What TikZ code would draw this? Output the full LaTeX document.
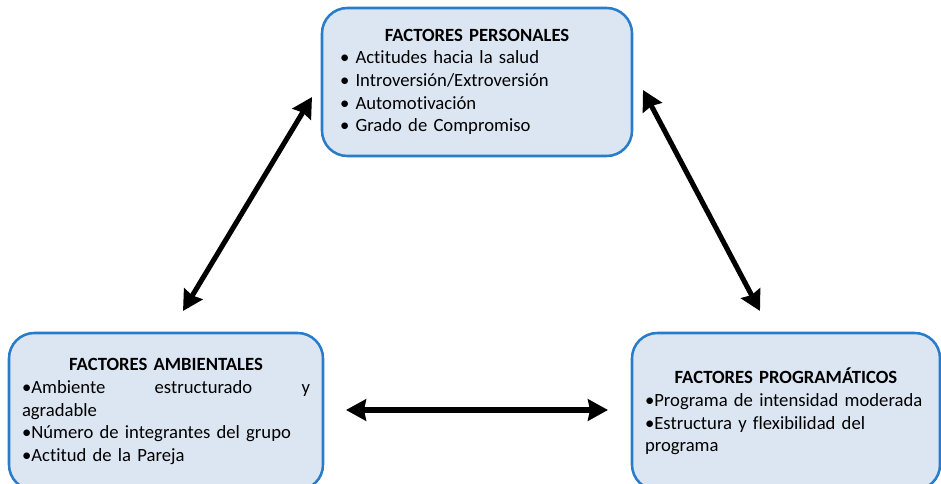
\documentclass[tikz,border=0pt]{standalone}
\usepackage{fontspec}
\setmainfont{Carlito}[Ligatures=CommonOff]
\usetikzlibrary{arrows.meta}
\definecolor{boxfill}{RGB}{220,230,242}
\definecolor{boxline}{RGB}{40,124,202}

\tikzset{
  factor/.style={draw=boxline, line width=1.9pt, fill=boxfill, rounded corners=19pt,
    inner sep=0pt, align=left, font=\fontsize{14}{17}\selectfont},
  link/.style={{Stealth[length=15pt,width=16pt,inset=1.5pt]}-{Stealth[length=15pt,width=16pt,inset=1.5pt]},
    line width=3.8pt}
}

\begin{document}
\begin{tikzpicture}[x=0.75pt,y=-0.75pt]
\useasboundingbox (0,0) rectangle (941,484);
% boxes
\node[factor, minimum width=232.5pt, minimum height=111pt, text width=205.5pt] (pers) at (477,82)
  {\makebox[\linewidth]{\textbf{FACTORES PERSONALES}}\\
   • Actitudes hacia la salud\\
   • Introversión/Extroversión\\
   • Automotivación\\
   • Grado de Compromiso};
\node[factor, minimum width=235.5pt, minimum height=117.75pt, text width=216pt] (amb) at (166,411.5)
  {\makebox[\linewidth]{\textbf{FACTORES AMBIENTALES}}\\
   \makebox[\linewidth][l]{•Ambiente\hfill estructurado\hfill y}\\
   agradable\\
   •Número de integrantes del grupo\\
   •Actitud de la Pareja};
\node[factor, minimum width=231pt, minimum height=117.75pt, text width=211.5pt] (prog) at (786,411.5)
  {\makebox[\linewidth]{\textbf{FACTORES PROGRAMÁTICOS}}\\
   •Programa de intensidad moderada\\
   •Estructura y flexibilidad del\\
   programa};
% arrow ends
\coordinate (pa) at (312,97);
\coordinate (pb) at (183,311);
\coordinate (pc) at (643,90);
\coordinate (pd) at (760,311);
\coordinate (pe) at (346,410);
\coordinate (pf) at (608,410);
\draw[link] (pb) -- (pa);
\draw[link] (pc) -- (pd);
\draw[link] (pe) -- (pf);
\end{tikzpicture}
\end{document}
